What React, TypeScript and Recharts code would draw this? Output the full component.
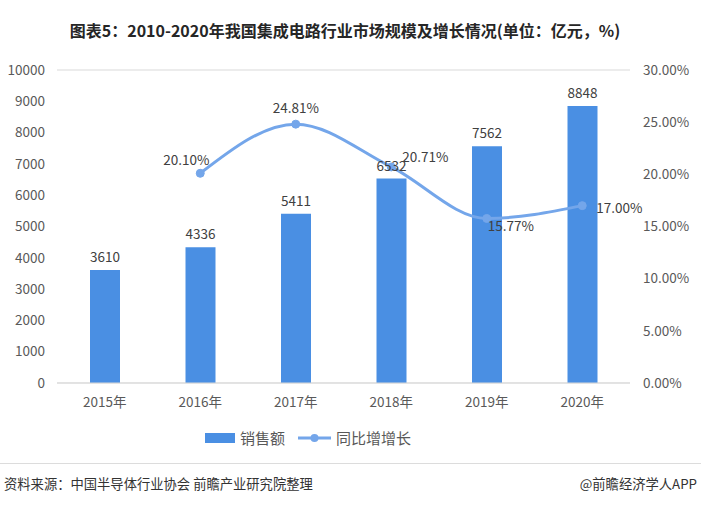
import React from 'react';
import {
  ComposedChart,
  Bar,
  Line,
  XAxis,
  YAxis,
  CartesianGrid,
  LabelList,
} from 'recharts';

const years = ['2015年', '2016年', '2017年', '2018年', '2019年', '2020年'];
const sales = [3610, 4336, 5411, 6532, 7562, 8848];
const growth: (number | null)[] = [null, 20.1, 24.81, 20.71, 15.77, 17.0];
const leftTicks = [0, 1000, 2000, 3000, 4000, 5000, 6000, 7000, 8000, 9000, 10000];
const rightTicks = [0, 5, 10, 15, 20, 25, 30];

const BAR_COLOR = '#4a8fe3';
const LINE_COLOR = '#74a6ea';
const FONT = '"Noto Sans CJK SC", "Noto Sans", sans-serif';

// label offsets for the growth line (dx, dy from the point)
const growthLabelShift = [
  [0, 0],
  [-14, -14],
  [0, -17],
  [34, -11],
  [24, 7],
  [37, 1],
];

const data = years.map((year, i) => ({
  year,
  sales: sales[i],
  growth: growth[i],
}));

const GrowthLabel = (props: any) => {
  const { x, y, value, index } = props;
  if (value == null) return null;
  const [dx, dy] = growthLabelShift[index] || [0, -12];
  return (
    <text
      x={x + dx}
      y={y + dy}
      textAnchor="middle"
      dominantBaseline="central"
      fill="#404040"
      fontSize={13.5}
      fontFamily={FONT}
    >
      {Number(value).toFixed(2) + '%'}
    </text>
  );
};

export default function App() {
  return (
    <div
      style={{
        position: 'absolute',
        left: 0,
        top: 0,
        width: 701,
        height: 513,
        background: '#fff',
        fontFamily: FONT,
      }}
    >
      {/* 标题 */}
      <div
        style={{
          position: 'absolute',
          top: 18,
          left: 0,
          width: 690,
          textAlign: 'center',
          fontSize: 16,
          fontWeight: 'bold',
          color: '#262626',
        }}
      >
        图表5：2010-2020年我国集成电路行业市场规模及增长情况(单位：亿元，%)
      </div>

      <div style={{ position: 'absolute', left: 0, top: 0 }}>
        <ComposedChart
          width={701}
          height={420}
          data={data}
          margin={{ top: 70, right: 0, left: 0, bottom: 7 }}
        >
          <CartesianGrid vertical={false} stroke="#d9d9d9" />
          <XAxis
            dataKey="year"
            height={30}
            axisLine={{ stroke: '#d9d9d9' }}
            tickLine={false}
            tickSize={12}
            tickMargin={2}
            tick={{ fill: '#595959', fontSize: 13.5, fontFamily: FONT }}
          />
          <YAxis
            yAxisId="left"
            width={57}
            domain={[0, 10000]}
            ticks={leftTicks}
            axisLine={false}
            tickLine={false}
            tickSize={10}
            tickMargin={2}
            tick={{ fill: '#595959', fontSize: 13.5, fontFamily: FONT }}
          />
          <YAxis
            yAxisId="right"
            orientation="right"
            width={71}
            domain={[0, 30]}
            ticks={rightTicks}
            tickFormatter={(v) => `${Number(v).toFixed(2)}%`}
            axisLine={false}
            tickLine={false}
            tickSize={11}
            tickMargin={2}
            tick={{ fill: '#595959', fontSize: 13.5, fontFamily: FONT }}
          />
          <Bar
            yAxisId="left"
            dataKey="sales"
            name="销售额"
            fill={BAR_COLOR}
            barSize={30}
            isAnimationActive={false}
          >
            <LabelList
              dataKey="sales"
              position="top"
              offset={8}
              fill="#404040"
              fontSize={13.5}
              fontFamily={FONT}
            />
          </Bar>
          <Line
            yAxisId="right"
            dataKey="growth"
            name="同比增增长"
            type="monotone"
            stroke={LINE_COLOR}
            strokeWidth={3}
            dot={{ r: 4, fill: LINE_COLOR, stroke: LINE_COLOR, strokeWidth: 1 }}
            activeDot={false}
            connectNulls
            isAnimationActive={false}
          >
            <LabelList dataKey="growth" content={<GrowthLabel />} />
          </Line>
        </ComposedChart>
      </div>

      {/* 图例 */}
      <div
        style={{
          position: 'absolute',
          top: 427,
          left: 205,
          display: 'flex',
          alignItems: 'center',
          fontSize: 15,
          color: '#595959',
        }}
      >
        <svg width={30} height={12} style={{ marginRight: 5 }}>
          <rect x={0} y={1} width={30} height={10} fill={BAR_COLOR} />
        </svg>
        <span style={{ marginRight: 13 }}>销售额</span>
        <svg width={33} height={12} style={{ marginRight: 5 }}>
          <line x1={0} y1={6} x2={33} y2={6} stroke={LINE_COLOR} strokeWidth={3} />
          <circle cx={16.5} cy={6} r={4} fill={LINE_COLOR} />
        </svg>
        <span>同比增增长</span>
      </div>

      {/* 底部 */}
      <div
        style={{
          position: 'absolute',
          top: 463,
          left: 0,
          width: 701,
          height: 1,
          background: '#dcdcdc',
        }}
      />
      <div
        style={{
          position: 'absolute',
          top: 474,
          left: 4,
          fontSize: 13.3,
          color: '#333',
        }}
      >
        资料来源：中国半导体行业协会 前瞻产业研究院整理
      </div>
      <div
        style={{
          position: 'absolute',
          top: 474,
          right: 4,
          fontSize: 13.3,
          color: '#333',
        }}
      >
        @前瞻经济学人APP
      </div>
    </div>
  );
}
